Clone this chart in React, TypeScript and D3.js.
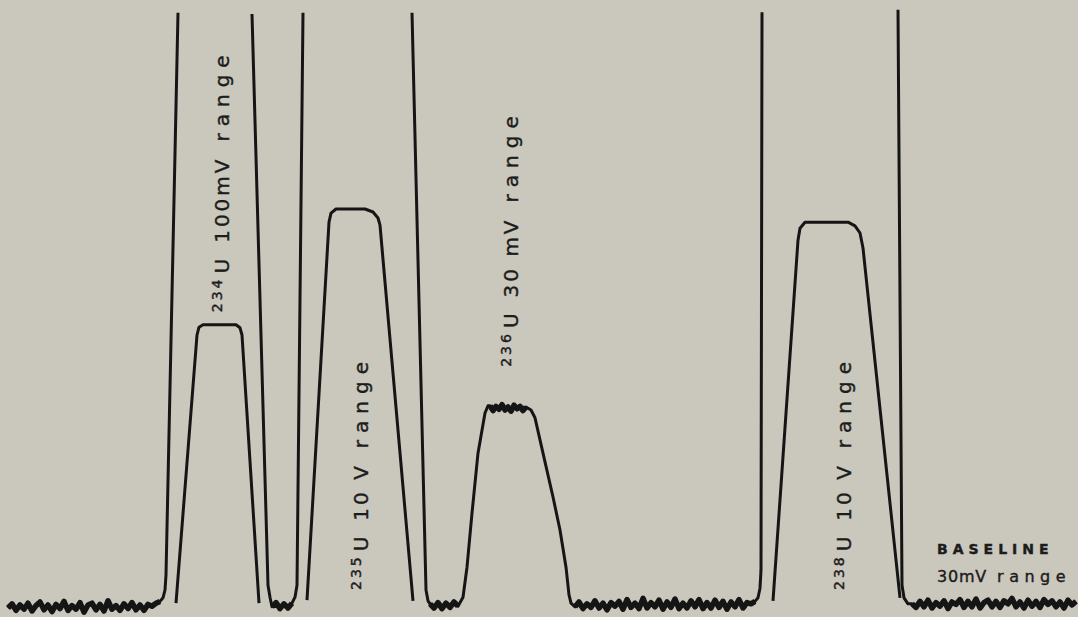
import React, { useEffect, useRef } from 'react';
import * as d3 from 'd3';

// chart-recorder trace of the uranium isotope scan
// t = chart position (arbitrary units), v = pen deflection in % of full scale

type Pt = [number, number];

// noisy stretches: evenly spaced samples
const baselineLeft = { start: 1.6, step: 0.8, values: [-0.5, 0.2, -0.9, 0.0, -0.7, 0.3, -1.0, -0.1, 0.5, -0.8, 0.0, -1.1, 0.1, -0.6, 0.6, -0.9, -0.1, -0.7, 0.4, -1.2, 0.0, 0.3, -0.8, 0.1, -1.0, 0.7, -0.7, -0.1, -0.9, 0.2, -0.6, 0.4, -0.8, 0.0, -0.9, 0.1, -0.2, 0.3, 0.6] };
const bowl234 = { start: 54.4, step: 0.8, values: [-0.3, 0.4, -0.6, 0.2, -0.5, 0.3] };
const bowl235 = { start: 86.0, step: 0.8, values: [0.2, -0.5, 0.4, -0.6, 0.3, -0.4, 0.5, -0.2] };
const plateau236 = { start: 98.0, step: 0.6, values: [33.2, 32.4, 33.1, 32.6, 33.4, 32.5, 33.0, 32.3, 33.3, 32.7, 33.1, 32.4, 33.0] };
const baselineMid = { start: 115.0, step: 0.8, values: [-0.3, 0.5, -0.6, 0.2, -0.4, 0.7, -0.5, 0.3, -0.8, 0.4, -0.2, 0.6, -0.7, 0.9, -0.4, 0.3, -0.6, 1.1, -0.5, 0.4, -0.3, 0.8, -0.7, 0.5, -0.4, 1.0, -0.6, 0.3, -0.5, 0.7, -0.3, 0.9, -0.6, 0.4, -0.5, 0.8, -0.4, 0.6, -0.7, 0.5, -0.3, 0.9, -0.5, 0.4, 0.2, 0.6] };
const baselineRight = { start: 182.4, step: 0.8, values: [0.2, -0.4, 0.6, -0.3, 0.8, -0.5, 0.4, -0.2, 0.7, -0.6, 0.5, 0.1, 0.9, -0.4, 0.6, -0.3, 1.0, -0.5, 0.4, 0.8, -0.3, 0.6, -0.4, 0.7, 0.2, 1.1, -0.3, 0.5, -0.5, 0.8, -0.2, 0.6, -0.4, 0.9, 0.1, 0.7, -0.3, 0.5, -0.5, 0.8, 0.0, 0.6] };

// smooth stretches: break points of the pen trace
const riseOffScale1: Pt[] = [[32.6, 1.2], [33.0, 2.5], [33.2, 5], [35.6, 98.7]];
const peak234: Pt[] = [[35.2, 0.3], [39.4, 45], [39.8, 46.3], [40.6, 46.7], [47.2, 46.7], [48.0, 46.2], [48.4, 45], [51.8, 0.3]];
const return234: Pt[] = [[50.4, 98.5], [53.6, 3.3], [54.0, 1.3]];
const riseOffScale2: Pt[] = [[59.0, 1.3], [59.4, 3.3], [60.6, 98.7]];
const peak235: Pt[] = [[61.4, 0.8], [65.8, 63.8], [66.2, 65.3], [67.2, 66], [73, 66], [74.6, 65.5], [75.6, 64.5], [76, 63.3], [82.6, 0.7]];
const return235: Pt[] = [[82.4, 98.7], [85.2, 2.5], [85.6, 0.7]];
const rise236: Pt[] = [[92.6, 1.3], [93.4, 6.3], [94.4, 15.3], [95.6, 25.3], [97.0, 32], [97.6, 33.2]];
const fall236: Pt[] = [[106.2, 32.5], [107, 31.2], [108.6, 25.3], [110.6, 18], [112, 12.5], [113.2, 6.3], [113.8, 1.7], [114.2, 0.3]];
const riseOffScale3: Pt[] = [[151.6, 1.2], [152, 2.8], [152.2, 5.8], [152.4, 98.8]];
const peak238: Pt[] = [[154.6, 0.7], [159.6, 60.8], [160, 62.8], [161, 63.8], [169.6, 63.8], [171, 63.2], [172, 62], [172.6, 59.5], [180, 1.2]];
const return238: Pt[] = [[179.6, 99.2], [180.4, 3.3], [180.8, 1.2], [181.6, 0.2]];

// peak annotations
const isotopes = ['234', '235', '236', '238'];
const ranges = ['100mV', '10 V', '30 mV', '10 V'];
const labelAnchors: Pt[] = [[45.8, 48.8], [73.6, 2.5], [103.6, 39.7], [170.2, 2.5]];
const baselineNote = ['BASELINE', '30mV', 'range'];

function expand(s: { start: number; step: number; values: number[] }): Pt[] {
    return s.values.map((v, i) => [s.start + i * s.step, v] as Pt);
}

export default function App() {
    const ref = useRef<SVGSVGElement>(null);

    useEffect(() => {
        const width = 1078;
        const height = 617;
        const svg = d3.select(ref.current);
        svg.selectAll('*').remove();

        const x = d3.scaleLinear().domain([0, 215.6]).range([0, width]);
        const y = d3.scaleLinear().domain([0, 100]).range([605, 5]);

        svg.append('rect').attr('width', width).attr('height', height).attr('fill', '#cac7bc');

        const segments: Pt[][] = [
            [...expand(baselineLeft), ...riseOffScale1],
            peak234,
            [...return234, ...expand(bowl234), ...riseOffScale2],
            peak235,
            [
                ...return235,
                ...expand(bowl235),
                ...rise236,
                ...expand(plateau236),
                ...fall236,
                ...expand(baselineMid),
                ...riseOffScale3,
            ],
            peak238,
            [...return238, ...expand(baselineRight)],
        ];
        const noisy = [baselineLeft, bowl234, bowl235, plateau236, baselineMid, baselineRight].map(expand);

        const line = d3
            .line<Pt>()
            .x((d) => x(d[0]))
            .y((d) => y(d[1]))
            .curve(d3.curveLinear);

        svg.append('g')
            .selectAll('path')
            .data(segments)
            .join('path')
            .attr('d', (d) => line(d))
            .attr('fill', 'none')
            .attr('stroke', '#151515')
            .attr('stroke-width', 3)
            .attr('stroke-linejoin', 'round');

        // the pen jitter smears into a heavier band
        svg.append('g')
            .selectAll('path')
            .data(noisy)
            .join('path')
            .attr('d', (d) => line(d))
            .attr('fill', 'none')
            .attr('stroke', '#151515')
            .attr('stroke-width', 5.5)
            .attr('stroke-linejoin', 'round');

        const font = "'DejaVu Sans', sans-serif";
        const labels = svg
            .append('g')
            .attr('fill', '#1c1c1c')
            .attr('stroke', '#1c1c1c')
            .attr('stroke-width', 0.4)
            .attr('font-family', font);

        isotopes.forEach((iso, i) => {
            const [t, v] = labelAnchors[i];
            const txt = labels
                .append('text')
                .attr('transform', `translate(${x(t)},${y(v)}) rotate(-90)`)
                .attr('font-size', 20);
            txt.append('tspan').attr('font-size', 14).attr('letter-spacing', 3).attr('dy', -7).text(iso);
            txt.append('tspan').attr('dy', 7).attr('dx', 3).text('U');
            txt.append('tspan').attr('dx', 16).attr('letter-spacing', 3).text(ranges[i]);
            txt.append('tspan').attr('dx', 15).attr('letter-spacing', 7).text('range');
        });

        const note = labels.append('g').attr('transform', `translate(${x(187.4)},0)`);
        note.append('text')
            .attr('y', y(8.5))
            .attr('font-size', 14)
            .attr('font-weight', 'bold')
            .attr('letter-spacing', 5)
            .text(baselineNote[0]);
        const second = note.append('text').attr('y', y(3.8)).attr('font-size', 16);
        second.append('tspan').attr('letter-spacing', 0.8).text(baselineNote[1]);
        second.append('tspan').attr('dx', 10).attr('letter-spacing', 5.5).text(baselineNote[2]);
    }, []);

    return (
        <svg
            ref={ref}
            width={1078}
            height={617}
            style={{ position: 'fixed', left: 0, top: 0, display: 'block' }}
        />
    );
}
